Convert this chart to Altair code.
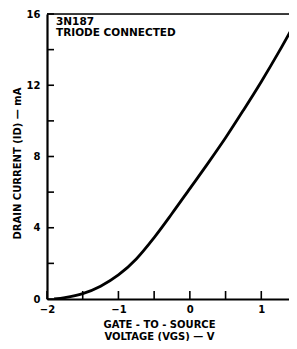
import altair as alt
import pandas as pd

# Data
vgs = [-1.9, -1.75, -1.5, -1.25, -1.0, -0.75, -0.5, -0.25, 0.0, 0.25, 0.5, 0.75, 1.0, 1.25, 1.5]
id_ma = [0.0, 0.08, 0.3, 0.72, 1.35, 2.25, 3.45, 4.8, 6.2, 7.6, 9.05, 10.6, 12.2, 13.9, 15.7]
y_ticks = [0, 2, 4, 6, 8, 10, 12, 14, 16]
x_ticks = [-2, -1.5, -1, -0.5, 0, 0.5, 1, 1.5]
y_labels = [0, 4, 8, 12, 16]
x_labels = [-2, -1, 0, 1]
note_lines = ["3N187", "TRIODE CONNECTED"]

FONT = "DejaVu Sans"
W, H = 250, 285

curve = pd.DataFrame({"vgs": vgs, "id": id_ma})
ydf = pd.DataFrame({"t": y_ticks})
xdf = pd.DataFrame({"t": x_ticks})
notes = pd.DataFrame({"txt": ["\n".join(note_lines)]})

xscale = alt.Scale(domain=[-2, 1.5], nice=False, zero=False)
yscale = alt.Scale(domain=[0, 16], nice=False, zero=False)

xaxis = alt.Axis(values=x_labels, ticks=False, grid=False, domainWidth=2.2,
                 domainColor="black", labelFont=FONT, labelFontSize=10,
                 labelFontWeight="bold", labelColor="black", labelPadding=5,
                 labelFlush=False, format="d",
                 title=["GATE - TO - SOURCE", "VOLTAGE (VGS) — V"],
                 titleFont=FONT, titleFontSize=10, titleFontWeight="bold",
                 titleColor="black", titleX=112, titleY=20, titleAlign="center",
                 titleBaseline="top", titleLineHeight=12)
yaxis = alt.Axis(values=y_labels, ticks=False, grid=False, domainWidth=2.2,
                 domainColor="black", labelFont=FONT, labelFontSize=10,
                 labelFontWeight="bold", labelColor="black", labelPadding=7,
                 labelFlush=False,
                 title="DRAIN CURRENT (ID) — mA", titleFont=FONT,
                 titleFontSize=10, titleFontWeight="bold", titleColor="black",
                 titleX=-30, titleY=149, titleAlign="center", titleAngle=-90,
                 titleBaseline="middle")

line = alt.Chart(curve).mark_line(color="black", strokeWidth=2.8,
                                  interpolate="monotone", clip=True).encode(
    x=alt.X("vgs:Q", scale=xscale, axis=xaxis),
    y=alt.Y("id:Q", scale=yscale, axis=yaxis),
)

yt = alt.Chart(ydf).mark_rule(color="black", strokeWidth=1.6).encode(
    y=alt.Y("t:Q", scale=yscale),
    x=alt.value(0), x2=alt.value(7),
)
xt = alt.Chart(xdf).mark_rule(color="black", strokeWidth=1.6).encode(
    x=alt.X("t:Q", scale=xscale),
    y=alt.value(H), y2=alt.value(H - 8),
)
top = alt.Chart(pd.DataFrame({"t": [16]})).mark_rule(color="black", strokeWidth=1.6).encode(
    y=alt.Y("t:Q", scale=yscale),
    x=alt.value(0), x2=alt.value(W),
)
txt = alt.Chart(notes).mark_text(align="left", baseline="alphabetic", font=FONT,
                                 fontSize=10.5, fontWeight="bold", color="black",
                                 lineBreak="\n", lineHeight=11).encode(
    text="txt:N",
    x=alt.value(9),
    y=alt.value(11),
)

chart = alt.layer(line, yt, xt, top, txt).properties(
    width=W, height=H,
    autosize=alt.AutoSizeParams(type="none"),
    padding={"left": 39, "top": 6, "right": -8, "bottom": 42},
).configure_view(stroke=None).configure(background="white")

chart.save("out.html", embed_options={"renderer": "svg", "actions": False})
